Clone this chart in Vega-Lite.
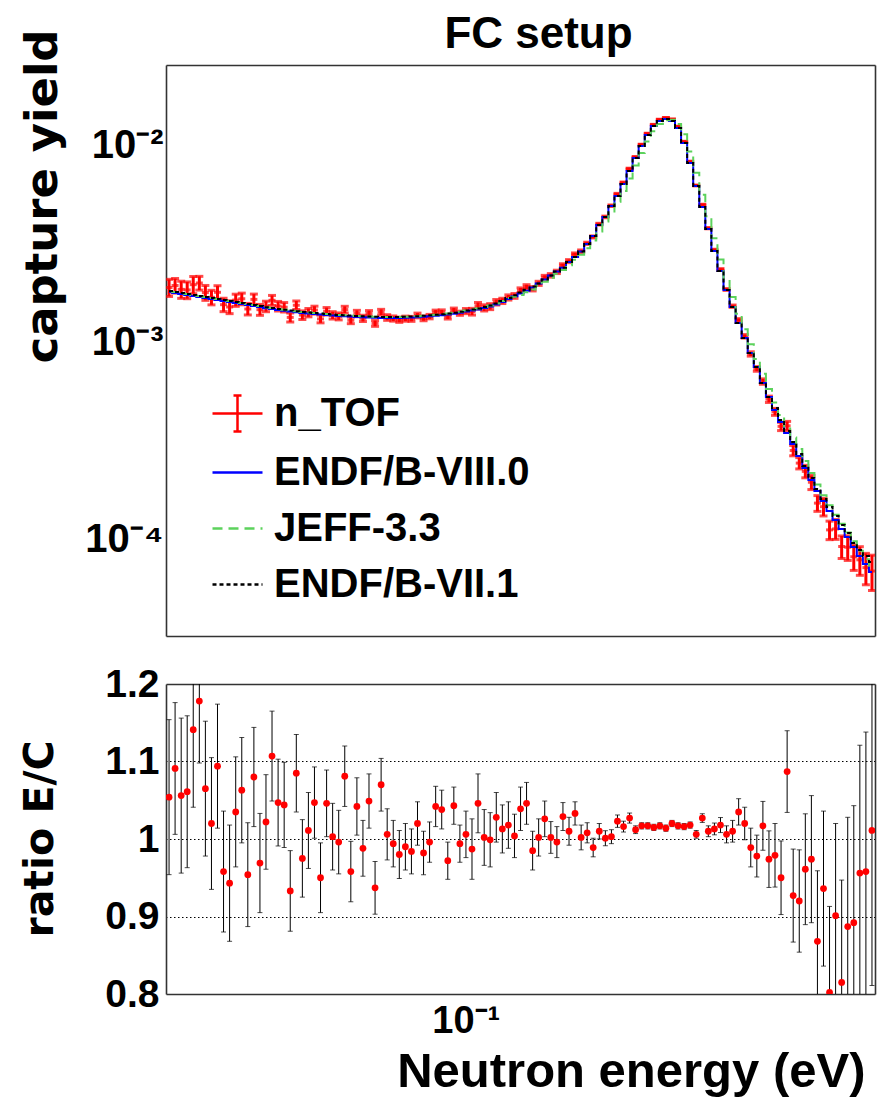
{
"$schema":"https://vega.github.io/schema/vega-lite/v6.json",
"background":"white",
"padding":{"left":19,"top":12,"right":1,"bottom":5},
"bounds":"flush",
"spacing":48,
"config":{"view":{"stroke":null},"font":"Liberation Sans",
 "axis":{"labelFont":"Liberation Sans","labelFontWeight":"bold","labelFontSize":38,"labelColor":"black","titleFont":"Liberation Sans","titleFontWeight":"bold","titleColor":"black","domainColor":"#333","domainWidth":1.6,"tickColor":"#333","tickWidth":1.3,"tickSize":0,"grid":false,"labelOverlap":false,"labelFlush":false,"labelBound":false}},
"datasets":{"bins":[
{"E":0.02033,"b8":1.796e-3,"j33":1.818e-3,"b7":1.818e-3,"d":1.893e-3,"de":1.89e-4,"r":1.054,"dr":0.1},
{"E":0.021,"b8":1.775e-3,"j33":1.796e-3,"b7":1.796e-3,"d":1.937e-3,"de":1.65e-4,"r":1.091,"dr":0.085},
{"E":0.0217,"b8":1.754e-3,"j33":1.775e-3,"b7":1.775e-3,"d":1.852e-3,"de":1.85e-4,"r":1.056,"dr":0.1},
{"E":0.02241,"b8":1.734e-3,"j33":1.755e-3,"b7":1.755e-3,"d":1.84e-3,"de":1.8e-4,"r":1.061,"dr":0.098},
{"E":0.02315,"b8":1.714e-3,"j33":1.735e-3,"b7":1.735e-3,"d":1.956e-3,"de":1.96e-4,"r":1.141,"dr":0.1},
{"E":0.02392,"b8":1.694e-3,"j33":1.714e-3,"b7":1.714e-3,"d":1.996e-3,"de":1.6e-4,"r":1.178,"dr":0.08},
{"E":0.02471,"b8":1.674e-3,"j33":1.694e-3,"b7":1.694e-3,"d":1.783e-3,"de":1.55e-4,"r":1.065,"dr":0.087},
{"E":0.02553,"b8":1.655e-3,"j33":1.675e-3,"b7":1.675e-3,"d":1.688e-3,"de":1.43e-4,"r":1.02,"dr":0.085},
{"E":0.02637,"b8":1.635e-3,"j33":1.655e-3,"b7":1.655e-3,"d":1.789e-3,"de":1.43e-4,"r":1.094,"dr":0.08},
{"E":0.02724,"b8":1.616e-3,"j33":1.635e-3,"b7":1.635e-3,"d":1.548e-3,"de":1.21e-4,"r":0.958,"dr":0.078},
{"E":0.02814,"b8":1.598e-3,"j33":1.617e-3,"b7":1.617e-3,"d":1.507e-3,"de":1.13e-4,"r":0.943,"dr":0.075},
{"E":0.02908,"b8":1.579e-3,"j33":1.598e-3,"b7":1.598e-3,"d":1.634e-3,"de":1.16e-4,"r":1.035,"dr":0.071},
{"E":0.03004,"b8":1.561e-3,"j33":1.58e-3,"b7":1.58e-3,"d":1.659e-3,"de":1.13e-4,"r":1.063,"dr":0.068},
{"E":0.03103,"b8":1.543e-3,"j33":1.562e-3,"b7":1.562e-3,"d":1.472e-3,"de":9.9e-5,"r":0.954,"dr":0.067},
{"E":0.03206,"b8":1.525e-3,"j33":1.543e-3,"b7":1.543e-3,"d":1.647e-3,"de":1.05e-4,"r":1.08,"dr":0.064},
{"E":0.03312,"b8":1.507e-3,"j33":1.525e-3,"b7":1.525e-3,"d":1.46e-3,"de":9.3e-5,"r":0.969,"dr":0.064},
{"E":0.03421,"b8":1.486e-3,"j33":1.504e-3,"b7":1.504e-3,"d":1.519e-3,"de":9.3e-5,"r":1.022,"dr":0.061},
{"E":0.03534,"b8":1.472e-3,"j33":1.49e-3,"b7":1.49e-3,"d":1.63e-3,"de":9.5e-5,"r":1.107,"dr":0.058},
{"E":0.03651,"b8":1.455e-3,"j33":1.472e-3,"b7":1.472e-3,"d":1.523e-3,"de":8.5e-5,"r":1.047,"dr":0.056},
{"E":0.03772,"b8":1.441e-3,"j33":1.458e-3,"b7":1.458e-3,"d":1.504e-3,"de":8.3e-5,"r":1.044,"dr":0.055},
{"E":0.03897,"b8":1.43e-3,"j33":1.447e-3,"b7":1.447e-3,"d":1.334e-3,"de":6.9e-5,"r":0.933,"dr":0.052},
{"E":0.04026,"b8":1.418e-3,"j33":1.435e-3,"b7":1.435e-3,"d":1.539e-3,"de":7.7e-5,"r":1.085,"dr":0.05},
{"E":0.04159,"b8":1.406e-3,"j33":1.423e-3,"b7":1.423e-3,"d":1.371e-3,"de":6.9e-5,"r":0.975,"dr":0.05},
{"E":0.04296,"b8":1.397e-3,"j33":1.414e-3,"b7":1.414e-3,"d":1.412e-3,"de":6.9e-5,"r":1.011,"dr":0.049},
{"E":0.04438,"b8":1.389e-3,"j33":1.406e-3,"b7":1.406e-3,"d":1.454e-3,"de":6.7e-5,"r":1.047,"dr":0.046},
{"E":0.04585,"b8":1.38e-3,"j33":1.397e-3,"b7":1.397e-3,"d":1.311e-3,"de":5.9e-5,"r":0.95,"dr":0.045},
{"E":0.04737,"b8":1.372e-3,"j33":1.388e-3,"b7":1.388e-3,"d":1.435e-3,"de":6.2e-5,"r":1.046,"dr":0.043},
{"E":0.04893,"b8":1.364e-3,"j33":1.38e-3,"b7":1.38e-3,"d":1.368e-3,"de":5.9e-5,"r":1.003,"dr":0.043},
{"E":0.05055,"b8":1.356e-3,"j33":1.372e-3,"b7":1.372e-3,"d":1.351e-3,"de":5.5e-5,"r":0.996,"dr":0.041},
{"E":0.05222,"b8":1.352e-3,"j33":1.368e-3,"b7":1.368e-3,"d":1.462e-3,"de":5.7e-5,"r":1.081,"dr":0.039},
{"E":0.05395,"b8":1.347e-3,"j33":1.363e-3,"b7":1.363e-3,"d":1.29e-3,"de":5e-5,"r":0.958,"dr":0.039},
{"E":0.05574,"b8":1.341e-3,"j33":1.357e-3,"b7":1.357e-3,"d":1.397e-3,"de":5.2e-5,"r":1.042,"dr":0.037},
{"E":0.05758,"b8":1.336e-3,"j33":1.352e-3,"b7":1.352e-3,"d":1.32e-3,"de":4.8e-5,"r":0.988,"dr":0.036},
{"E":0.05948,"b8":1.331e-3,"j33":1.347e-3,"b7":1.347e-3,"d":1.396e-3,"de":4.9e-5,"r":1.049,"dr":0.035},
{"E":0.06145,"b8":1.328e-3,"j33":1.344e-3,"b7":1.344e-3,"d":1.244e-3,"de":4.2e-5,"r":0.937,"dr":0.034},
{"E":0.06348,"b8":1.325e-3,"j33":1.341e-3,"b7":1.341e-3,"d":1.418e-3,"de":4.8e-5,"r":1.07,"dr":0.034},
{"E":0.06558,"b8":1.325e-3,"j33":1.341e-3,"b7":1.341e-3,"d":1.333e-3,"de":4.4e-5,"r":1.006,"dr":0.033},
{"E":0.06775,"b8":1.325e-3,"j33":1.341e-3,"b7":1.341e-3,"d":1.317e-3,"de":4e-5,"r":0.994,"dr":0.03},
{"E":0.06999,"b8":1.325e-3,"j33":1.341e-3,"b7":1.341e-3,"d":1.299e-3,"de":4e-5,"r":0.98,"dr":0.031},
{"E":0.07231,"b8":1.328e-3,"j33":1.344e-3,"b7":1.344e-3,"d":1.315e-3,"de":3.9e-5,"r":0.99,"dr":0.03},
{"E":0.0747,"b8":1.333e-3,"j33":1.349e-3,"b7":1.349e-3,"d":1.312e-3,"de":3.8e-5,"r":0.984,"dr":0.029},
{"E":0.07717,"b8":1.338e-3,"j33":1.354e-3,"b7":1.354e-3,"d":1.365e-3,"de":3.8e-5,"r":1.02,"dr":0.028},
{"E":0.07972,"b8":1.344e-3,"j33":1.36e-3,"b7":1.36e-3,"d":1.32e-3,"de":3.7e-5,"r":0.982,"dr":0.028},
{"E":0.08235,"b8":1.352e-3,"j33":1.368e-3,"b7":1.368e-3,"d":1.347e-3,"de":3.5e-5,"r":0.996,"dr":0.026},
{"E":0.08508,"b8":1.359e-3,"j33":1.375e-3,"b7":1.375e-3,"d":1.416e-3,"de":3.7e-5,"r":1.042,"dr":0.026},
{"E":0.08789,"b8":1.369e-3,"j33":1.385e-3,"b7":1.385e-3,"d":1.421e-3,"de":3.6e-5,"r":1.038,"dr":0.025},
{"E":0.0908,"b8":1.38e-3,"j33":1.397e-3,"b7":1.397e-3,"d":1.341e-3,"de":3.2e-5,"r":0.972,"dr":0.024},
{"E":0.0938,"b8":1.393e-3,"j33":1.41e-3,"b7":1.41e-3,"d":1.453e-3,"de":3.5e-5,"r":1.043,"dr":0.024},
{"E":0.0969,"b8":1.409e-3,"j33":1.426e-3,"b7":1.426e-3,"d":1.401e-3,"de":3.4e-5,"r":0.994,"dr":0.024},
{"E":0.1001,"b8":1.428e-3,"j33":1.445e-3,"b7":1.445e-3,"d":1.437e-3,"de":4.3e-5,"r":1.006,"dr":0.03},
{"E":0.1034,"b8":1.446e-3,"j33":1.463e-3,"b7":1.463e-3,"d":1.427e-3,"de":5.6e-5,"r":0.987,"dr":0.039},
{"E":0.1068,"b8":1.463e-3,"j33":1.481e-3,"b7":1.481e-3,"d":1.53e-3,"de":5.8e-5,"r":1.046,"dr":0.038},
{"E":0.1104,"b8":1.489e-3,"j33":1.507e-3,"b7":1.507e-3,"d":1.492e-3,"de":5.4e-5,"r":1.002,"dr":0.036},
{"E":0.114,"b8":1.516e-3,"j33":1.534e-3,"b7":1.534e-3,"d":1.514e-3,"de":5.3e-5,"r":0.999,"dr":0.035},
{"E":0.1178,"b8":1.55e-3,"j33":1.569e-3,"b7":1.569e-3,"d":1.593e-3,"de":5.1e-5,"r":1.028,"dr":0.032},
{"E":0.1217,"b8":1.598e-3,"j33":1.617e-3,"b7":1.617e-3,"d":1.619e-3,"de":5e-5,"r":1.013,"dr":0.031},
{"E":0.1257,"b8":1.655e-3,"j33":1.675e-3,"b7":1.675e-3,"d":1.685e-3,"de":5.1e-5,"r":1.018,"dr":0.03},
{"E":0.1299,"b8":1.708e-3,"j33":1.7e-3,"b7":1.728e-3,"d":1.715e-3,"de":4.8e-5,"r":1.004,"dr":0.028},
{"E":0.1342,"b8":1.764e-3,"j33":1.732e-3,"b7":1.785e-3,"d":1.833e-3,"de":5.1e-5,"r":1.039,"dr":0.028},
{"E":0.1386,"b8":1.821e-3,"j33":1.788e-3,"b7":1.843e-3,"d":1.905e-3,"de":5.1e-5,"r":1.046,"dr":0.027},
{"E":0.1432,"b8":1.893e-3,"j33":1.851e-3,"b7":1.916e-3,"d":1.865e-3,"de":4.7e-5,"r":0.985,"dr":0.025},
{"E":0.1479,"b8":1.983e-3,"j33":1.931e-3,"b7":1.983e-3,"d":1.987e-3,"de":4.8e-5,"r":1.002,"dr":0.024},
{"E":0.1528,"b8":2.078e-3,"j33":2.023e-3,"b7":2.078e-3,"d":2.132e-3,"de":4.9e-5,"r":1.026,"dr":0.023},
{"E":0.1579,"b8":2.177e-3,"j33":2.12e-3,"b7":2.177e-3,"d":2.181e-3,"de":4.5e-5,"r":1.002,"dr":0.0205},
{"E":0.1631,"b8":2.281e-3,"j33":2.222e-3,"b7":2.281e-3,"d":2.272e-3,"de":4.5e-5,"r":0.996,"dr":0.02},
{"E":0.1685,"b8":2.385e-3,"j33":2.325e-3,"b7":2.385e-3,"d":2.454e-3,"de":4.4e-5,"r":1.029,"dr":0.018},
{"E":0.1741,"b8":2.55e-3,"j33":2.454e-3,"b7":2.55e-3,"d":2.576e-3,"de":4.6e-5,"r":1.01,"dr":0.018},
{"E":0.1798,"b8":2.704e-3,"j33":2.614e-3,"b7":2.704e-3,"d":2.793e-3,"de":4.2e-5,"r":1.033,"dr":0.015},
{"E":0.1858,"b8":2.883e-3,"j33":2.777e-3,"b7":2.883e-3,"d":2.889e-3,"de":4.6e-5,"r":1.002,"dr":0.016},
{"E":0.1919,"b8":3.147e-3,"j33":2.99e-3,"b7":3.147e-3,"d":3.172e-3,"de":4.1e-5,"r":1.008,"dr":0.013},
{"E":0.1982,"b8":3.456e-3,"j33":3.274e-3,"b7":3.456e-3,"d":3.418e-3,"de":4.1e-5,"r":0.989,"dr":0.012},
{"E":0.2048,"b8":3.929e-3,"j33":3.646e-3,"b7":3.929e-3,"d":3.968e-3,"de":4e-5,"r":1.01,"dr":0.01},
{"E":0.2116,"b8":4.314e-3,"j33":4.089e-3,"b7":4.314e-3,"d":4.318e-3,"de":4.2e-5,"r":1.001,"dr":0.0097},
{"E":0.2186,"b8":4.907e-3,"j33":4.552e-3,"b7":4.907e-3,"d":4.922e-3,"de":4.4e-5,"r":1.003,"dr":0.009},
{"E":0.2258,"b8":5.515e-3,"j33":5.153e-3,"b7":5.515e-3,"d":5.642e-3,"de":4.5e-5,"r":1.023,"dr":0.008},
{"E":0.2333,"b8":6.347e-3,"j33":5.846e-3,"b7":6.347e-3,"d":6.449e-3,"de":4.5e-5,"r":1.016,"dr":0.007},
{"E":0.241,"b8":7.386e-3,"j33":6.766e-3,"b7":7.386e-3,"d":7.585e-3,"de":4.9e-5,"r":1.027,"dr":0.0065},
{"E":0.2489,"b8":8.597e-3,"j33":7.874e-3,"b7":8.597e-3,"d":8.7e-3,"de":4.4e-5,"r":1.012,"dr":0.005},
{"E":0.2572,"b8":9.893e-3,"j33":9.115e-3,"b7":9.893e-3,"d":1.0061e-2,"de":4e-5,"r":1.017,"dr":0.004},
{"E":0.2657,"b8":1.1252e-2,"j33":1.0439e-2,"b7":1.1252e-2,"d":1.1443e-2,"de":4.6e-5,"r":1.017,"dr":0.004},
{"E":0.2745,"b8":1.2499e-2,"j33":1.1761e-2,"b7":1.2499e-2,"d":1.2686e-2,"de":5.1e-5,"r":1.015,"dr":0.004},
{"E":0.2835,"b8":1.3251e-2,"j33":1.2809e-2,"b7":1.3251e-2,"d":1.3476e-2,"de":5.4e-5,"r":1.017,"dr":0.004},
{"E":0.2929,"b8":1.3564e-2,"j33":1.3375e-2,"b7":1.3564e-2,"d":1.3754e-2,"de":5.5e-5,"r":1.014,"dr":0.004},
{"E":0.3026,"b8":1.3251e-2,"j33":1.3438e-2,"b7":1.3251e-2,"d":1.3516e-2,"de":5.4e-5,"r":1.02,"dr":0.004},
{"E":0.3126,"b8":1.2208e-2,"j33":1.2809e-2,"b7":1.2208e-2,"d":1.2416e-2,"de":5e-5,"r":1.017,"dr":0.004},
{"E":0.323,"b8":1.0246e-2,"j33":1.1345e-2,"b7":1.0246e-2,"d":1.041e-2,"de":4.2e-5,"r":1.016,"dr":0.004},
{"E":0.3336,"b8":8.108e-3,"j33":9.288e-3,"b7":8.108e-3,"d":8.254e-3,"de":3.3e-5,"r":1.018,"dr":0.004},
{"E":0.3447,"b8":6.2e-3,"j33":7.24e-3,"b7":6.2e-3,"d":6.237e-3,"de":3.1e-5,"r":1.006,"dr":0.005},
{"E":0.3561,"b8":4.85e-3,"j33":5.592e-3,"b7":4.85e-3,"d":4.981e-3,"de":2.8e-5,"r":1.027,"dr":0.0056},
{"E":0.3678,"b8":3.749e-3,"j33":4.355e-3,"b7":3.749e-3,"d":3.786e-3,"de":2.7e-5,"r":1.01,"dr":0.007},
{"E":0.38,"b8":2.9e-3,"j33":3.367e-3,"b7":2.9e-3,"d":2.938e-3,"de":2.2e-5,"r":1.013,"dr":0.0076},
{"E":0.3926,"b8":2.296e-3,"j33":2.629e-3,"b7":2.296e-3,"d":2.337e-3,"de":2.3e-5,"r":1.018,"dr":0.0097},
{"E":0.4056,"b8":1.838e-3,"j33":2.09e-3,"b7":1.838e-3,"d":1.849e-3,"de":2e-5,"r":1.006,"dr":0.011},
{"E":0.419,"b8":1.506e-3,"j33":1.696e-3,"b7":1.506e-3,"d":1.521e-3,"de":2.1e-5,"r":1.01,"dr":0.014},
{"E":0.4328,"b8":1.2498e-3,"j33":1.3933e-3,"b7":1.2498e-3,"d":1.2935e-3,"de":2.2e-5,"r":1.035,"dr":0.017},
{"E":0.4471,"b8":1.0488e-3,"j33":1.161e-3,"b7":1.0488e-3,"d":1.0698e-3,"de":2.2e-5,"r":1.02,"dr":0.021},
{"E":0.4619,"b8":8.803e-4,"j33":9.745e-4,"b7":8.803e-4,"d":8.706e-4,"de":2.2e-5,"r":0.989,"dr":0.025},
{"E":0.4772,"b8":7.474e-4,"j33":8.216e-4,"b7":7.474e-4,"d":7.31e-4,"de":2e-5,"r":0.978,"dr":0.027},
{"E":0.493,"b8":6.2e-4,"j33":6.909e-4,"b7":6.2e-4,"d":6.305e-4,"de":2e-5,"r":1.017,"dr":0.0315},
{"E":0.5093,"b8":5.263e-4,"j33":5.785e-4,"b7":5.263e-4,"d":5.126e-4,"de":1.9e-5,"r":0.974,"dr":0.0365},
{"E":0.5261,"b8":4.521e-4,"j33":4.935e-4,"b7":4.63e-4,"d":4.426e-4,"de":1.8e-5,"r":0.979,"dr":0.041},
{"E":0.5435,"b8":3.929e-4,"j33":4.265e-4,"b7":4.023e-4,"d":3.733e-4,"de":1.8e-5,"r":0.95,"dr":0.0475},
{"E":0.5615,"b8":3.455e-4,"j33":3.724e-4,"b7":3.538e-4,"d":3.756e-4,"de":2e-5,"r":1.087,"dr":0.0527},
{"E":0.5801,"b8":3.038e-4,"j33":3.274e-4,"b7":3.111e-4,"d":2.816e-4,"de":1.7e-5,"r":0.927,"dr":0.06},
{"E":0.5993,"b8":2.641e-4,"j33":2.867e-4,"b7":2.704e-4,"d":2.43e-4,"de":1.6e-5,"r":0.92,"dr":0.066},
{"E":0.6191,"b8":2.296e-4,"j33":2.491e-4,"b7":2.351e-4,"d":2.206e-4,"de":1.6e-5,"r":0.961,"dr":0.0715},
{"E":0.6396,"b8":1.995e-4,"j33":2.165e-4,"b7":2.043e-4,"d":1.943e-4,"de":1.6e-5,"r":0.974,"dr":0.082},
{"E":0.6607,"b8":1.754e-4,"j33":1.89e-4,"b7":1.796e-4,"d":1.522e-4,"de":1.4e-5,"r":0.868,"dr":0.091},
{"E":0.6826,"b8":1.56e-4,"j33":1.67e-4,"b7":1.597e-4,"d":1.46e-4,"de":1.5e-5,"r":0.936,"dr":0.1},
{"E":0.7051,"b8":1.388e-4,"j33":1.486e-4,"b7":1.455e-4,"d":1.113e-4,"de":1.2e-5,"r":0.802,"dr":0.111},
{"E":0.7284,"b8":1.25e-4,"j33":1.328e-4,"b7":1.31e-4,"d":1.126e-4,"de":1.3e-5,"r":0.901,"dr":0.119},
{"E":0.7525,"b8":1.125e-4,"j33":1.196e-4,"b7":1.179e-4,"d":9.169e-5,"de":1.2e-5,"r":0.815,"dr":0.132},
{"E":0.7774,"b8":1.0246e-4,"j33":1.0812e-4,"b7":1.0738e-4,"d":9.088e-5,"de":1.3e-5,"r":0.887,"dr":0.141},
{"E":0.8031,"b8":9.116e-5,"j33":9.756e-5,"b7":9.553e-5,"d":8.131e-5,"de":1.2e-5,"r":0.892,"dr":0.151},
{"E":0.8297,"b8":8.206e-5,"j33":8.719e-5,"b7":8.803e-5,"d":7.845e-5,"de":1.3e-5,"r":0.956,"dr":0.165},
{"E":0.8571,"b8":7.474e-5,"j33":7.887e-5,"b7":8.206e-5,"d":7.16e-5,"de":1.3e-5,"r":0.958,"dr":0.18},
{"E":0.8855,"b8":6.806e-5,"j33":7.183e-5,"b7":7.65e-5,"d":6.881e-5,"de":1.4e-5,"r":1.011,"dr":0.2}
]},
"vconcat":[
{
 "width":709,"height":571,
 "title":{"text":"FC setup","font":"Liberation Sans","fontWeight":"bold","fontSize":44,"color":"black","anchor":"middle","dx":18,"offset":-63,"baseline":"alphabetic"},
 "data":{"name":"bins"},
 "layer":[
  {"mark":{"type":"errorbar","color":"#ff0000","thickness":3,"ticks":{"size":8,"thickness":3,"color":"#ff0000"},"clip":true},
   "encoding":{
    "x":{"field":"E","type":"quantitative","scale":{"type":"log","domain":[0.02,0.9],"nice":false},
     "axis":{"orient":"top","title":null,"labels":false,"values":[0.03,0.04,0.05,0.06,0.07,0.08,0.09,0.1,0.2,0.3,0.4,0.5,0.6,0.7,0.8],
      "encode":{"ticks":{"update":{"y2":{"signal":"abs(log(datum.value)/LN10 - round(log(datum.value)/LN10)) < 1e-6 ? 17 : 8.5"}}}}}},
    "y":{"field":"d","type":"quantitative","scale":{"type":"log","domain":[3.22e-5,0.0255],"nice":false},
     "axis":{"orient":"right","title":null,"labels":false,"values":[0.00004,0.00005,0.00006,0.00007,0.00008,0.00009,0.0001,0.0002,0.0003,0.0004,0.0005,0.0006,0.0007,0.0008,0.0009,0.001,0.002,0.003,0.004,0.005,0.006,0.007,0.008,0.009,0.01,0.02],
      "encode":{"ticks":{"update":{"x2":{"signal":"abs(log(datum.value)/LN10 - round(log(datum.value)/LN10)) < 1e-6 ? -25 : -11"}}}}}},
    "yError":{"field":"de"}
   }},
  {"mark":{"type":"tick","orient":"horizontal","size":7,"thickness":3,"color":"#ff0000","clip":true},
   "encoding":{
    "x":{"field":"E","type":"quantitative","axis":null},
    "y":{"field":"d","type":"quantitative","axis":null}
   }},
  {"transform":[{"fold":["b8","j33","b7"],"as":["series","val"]}],
   "mark":{"type":"line","interpolate":"step","strokeWidth":2,"clip":true},
   "encoding":{
    "x":{"field":"E","type":"quantitative",
     "axis":{"orient":"bottom","title":null,"labels":false,"values":[0.03,0.04,0.05,0.06,0.07,0.08,0.09,0.1,0.2,0.3,0.4,0.5,0.6,0.7,0.8],
      "encode":{"ticks":{"update":{"y2":{"signal":"abs(log(datum.value)/LN10 - round(log(datum.value)/LN10)) < 1e-6 ? -17 : -8.5"}}}}}},
    "y":{"field":"val","type":"quantitative",
     "axis":{"orient":"left","title":"capture yield","titleFont":"DejaVu Sans","titleFontSize":45,"titleAngle":-90,"titleX":-124,"titleY":131,"titleAlign":"center","titleBaseline":"middle",
      "labelPadding":3,"labelFontSize":40,
      "labelExpr":"abs(log(datum.value)/LN10 - round(log(datum.value)/LN10)) < 1e-6 ? '10⁻' + ['⁰','¹','²','³','⁴','⁵'][-round(log(datum.value)/LN10)] : ''",
      "values":[0.00004,0.00005,0.00006,0.00007,0.00008,0.00009,0.0001,0.0002,0.0003,0.0004,0.0005,0.0006,0.0007,0.0008,0.0009,0.001,0.002,0.003,0.004,0.005,0.006,0.007,0.008,0.009,0.01,0.02],
      "encode":{"ticks":{"update":{"x2":{"signal":"abs(log(datum.value)/LN10 - round(log(datum.value)/LN10)) < 1e-6 ? 25 : 11"}}}}}},
    "color":{"field":"series","type":"nominal","scale":{"domain":["nTOF","b8","j33","b7"],"range":["#ff0000","#0000ff","#5cd25c","#000000"]},
     "legend":{"orient":"none","legendX":45,"legendY":322,"title":null,"symbolType":"stroke","symbolSize":2500,"symbolStrokeWidth":2.5,
      "labelFont":"Liberation Sans","labelFontWeight":"bold","labelFontSize":40,"labelColor":"black","labelOffset":10,"rowPadding":9,"labelLimit":0,
      "labelExpr":"datum.value == 'b8' ? 'ENDF/B-VIII.0' : datum.value == 'j33' ? 'JEFF-3.3' : datum.value == 'b7' ? 'ENDF/B-VII.1' : 'n_TOF'",
      "encode":{"symbols":{"update":{"shape":{"signal":"datum.value == 'nTOF' ? 'M-1,0H1M0,-0.72V0.72M-0.16,-0.72H0.16M-0.16,0.72H0.16' : 'stroke'"}}}}}},
    "strokeDash":{"field":"series","type":"nominal","scale":{"domain":["nTOF","b8","j33","b7"],"range":[[1,0],[1,0],[10,6],[4,3]]},
     "legend":{"orient":"none","legendX":45,"legendY":322,"title":null,"symbolType":"stroke","symbolSize":2500,"symbolStrokeWidth":2.5,
      "labelFont":"Liberation Sans","labelFontWeight":"bold","labelFontSize":40,"labelColor":"black","labelOffset":10,"rowPadding":9,"labelLimit":0,
      "labelExpr":"datum.value == 'b8' ? 'ENDF/B-VIII.0' : datum.value == 'j33' ? 'JEFF-3.3' : datum.value == 'b7' ? 'ENDF/B-VII.1' : 'n_TOF'",
      "encode":{"symbols":{"update":{"shape":{"signal":"datum.value == 'nTOF' ? 'M-1,0H1M0,-0.72V0.72M-0.16,-0.72H0.16M-0.16,0.72H0.16' : 'stroke'"}}}}}}
   }}
 ],
 "resolve":{"axis":{"x":"independent","y":"independent"}}
},
{
 "width":709,"height":310,
 "data":{"name":"bins"},
 "layer":[
  {"mark":{"type":"errorbar","color":"#000000","thickness":1,"ticks":{"size":5,"thickness":1,"color":"#000000"},"clip":true},
   "encoding":{
    "x":{"field":"E","type":"quantitative","scale":{"type":"log","domain":[0.02,0.9],"nice":false},
     "axis":{"orient":"bottom","title":"Neutron energy (eV)","titleFontSize":49,"titleX":699,"titleY":92,"titleAlign":"right","titleBaseline":"alphabetic","titleAngle":0,
      "labelPadding":8,"labelFontSize":38,"labelExpr":"abs(datum.value - 0.1) < 1e-9 ? '10⁻¹' : ''",
      "values":[0.03,0.04,0.05,0.06,0.07,0.08,0.09,0.1,0.2,0.3,0.4,0.5,0.6,0.7,0.8],
      "encode":{"ticks":{"update":{"y2":{"signal":"abs(log(datum.value)/LN10 - round(log(datum.value)/LN10)) < 1e-6 ? -17 : -8"}}}}}},
    "y":{"field":"r","type":"quantitative","scale":{"domain":[0.8,1.2],"nice":false,"zero":false},
     "axis":{"orient":"left","title":"ratio E/C","titleFont":"DejaVu Sans","titleFontSize":41,"titleAngle":-90,"titleX":-126,"titleY":154.5,"titleAlign":"center","titleBaseline":"middle",
      "labelPadding":7,"labelFontSize":39,
      "labelExpr":"abs(datum.value*10 - round(datum.value*10)) < 1e-6 ? toString(datum.value) : ''",
      "values":[0.8,0.82,0.84,0.86,0.88,0.9,0.92,0.94,0.96,0.98,1.0,1.02,1.04,1.06,1.08,1.1,1.12,1.14,1.16,1.18,1.2],
      "encode":{"ticks":{"update":{"x2":{"signal":"abs(datum.value*10 - round(datum.value*10)) < 1e-6 ? 25 : 11"}}}}}},
    "yError":{"field":"dr"}
   }},
  {"mark":{"type":"circle","size":46,"color":"#ff0000","opacity":1,"clip":true},
   "encoding":{
    "x":{"field":"E","type":"quantitative",
     "axis":{"orient":"top","title":null,"labels":false,"values":[0.03,0.04,0.05,0.06,0.07,0.08,0.09,0.1,0.2,0.3,0.4,0.5,0.6,0.7,0.8],
      "encode":{"ticks":{"update":{"y2":{"signal":"abs(log(datum.value)/LN10 - round(log(datum.value)/LN10)) < 1e-6 ? 17 : 8"}}}}}},
    "y":{"field":"r","type":"quantitative",
     "axis":{"orient":"right","title":null,"labels":false,
      "values":[0.82,0.84,0.86,0.88,0.9,0.92,0.94,0.96,0.98,1.0,1.02,1.04,1.06,1.08,1.1,1.12,1.14,1.16,1.18],
      "grid":true,"gridColor":"#000000","gridDash":[1.5,2.5],"gridWidth":1,
      "gridOpacity":{"condition":{"test":"datum.value === 0.9 || datum.value === 1 || datum.value === 1.1","value":1},"value":0},
      "encode":{"ticks":{"update":{"x2":{"signal":"abs(datum.value*10 - round(datum.value*10)) < 1e-6 ? -25 : -11"}}}}}}
   }}
 ],
 "resolve":{"axis":{"x":"independent","y":"independent"}}
}
]
}
